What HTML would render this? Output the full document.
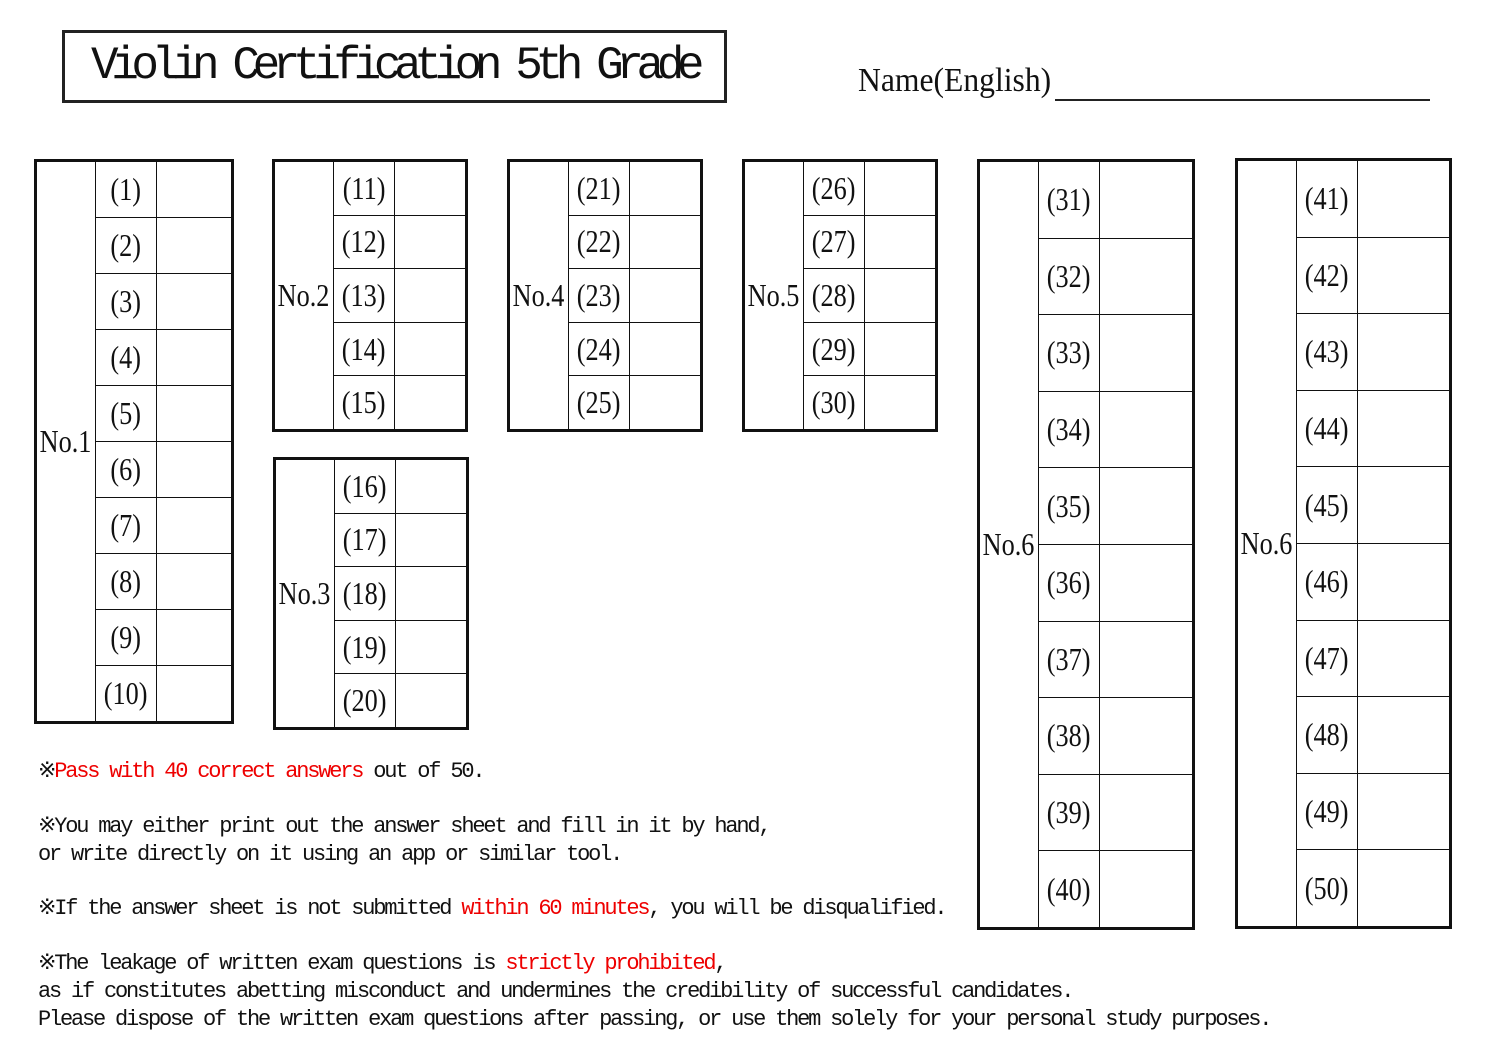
<!DOCTYPE html>
<html><head><meta charset="utf-8"><style>
html,body{margin:0;padding:0;background:#fff;}
body{width:1485px;height:1050px;position:relative;overflow:hidden;font-family:"Liberation Serif","Noto Serif CJK SC",serif;color:#111;}
.title{position:absolute;left:62px;top:30px;width:665px;height:73px;box-sizing:border-box;border:3px solid #222;font-family:"Liberation Mono",monospace;font-size:46px;letter-spacing:-7.4px;line-height:67px;padding-left:26px;white-space:nowrap;}
.name{position:absolute;left:858px;top:62px;font-size:34px;white-space:nowrap;transform:scaleX(0.93);transform-origin:left top;}
.line{position:absolute;left:1055px;top:99px;width:375px;height:2px;background:#222;}
.blk{position:absolute;box-sizing:border-box;border:3px solid #111;background:#111;display:grid;gap:1px;grid-template-columns:58px 60px 1fr;}
.blk div{background:#fff;display:flex;align-items:center;justify-content:center;font-size:32px;overflow:hidden;}
.blk div span{display:inline-block;transform:scaleX(0.82);white-space:nowrap;}
.lab{grid-row:1/-1;}
.txt{position:absolute;left:38px;font-family:"Liberation Mono",monospace;font-size:22px;letter-spacing:-2.2px;white-space:nowrap;line-height:28px;}
.r{color:#e00;}
</style></head><body>
<div class="title">Violin Certification 5th Grade</div>
<div class="name">Name(English)</div>
<div class="line"></div>

<div class="blk" style="left:34px;top:159px;width:200px;height:565px;grid-template-rows:repeat(10,1fr)">
<div class="lab"><span>No.1</span></div>
<div><span>(1)</span></div><div></div>
<div><span>(2)</span></div><div></div>
<div><span>(3)</span></div><div></div>
<div><span>(4)</span></div><div></div>
<div><span>(5)</span></div><div></div>
<div><span>(6)</span></div><div></div>
<div><span>(7)</span></div><div></div>
<div><span>(8)</span></div><div></div>
<div><span>(9)</span></div><div></div>
<div><span>(10)</span></div><div></div>
</div>

<div class="blk" style="left:272px;top:159px;width:196px;height:273px;grid-template-rows:repeat(5,1fr)">
<div class="lab"><span>No.2</span></div>
<div><span>(11)</span></div><div></div>
<div><span>(12)</span></div><div></div>
<div><span>(13)</span></div><div></div>
<div><span>(14)</span></div><div></div>
<div><span>(15)</span></div><div></div>
</div>

<div class="blk" style="left:273px;top:457px;width:196px;height:273px;grid-template-rows:repeat(5,1fr)">
<div class="lab"><span>No.3</span></div>
<div><span>(16)</span></div><div></div>
<div><span>(17)</span></div><div></div>
<div><span>(18)</span></div><div></div>
<div><span>(19)</span></div><div></div>
<div><span>(20)</span></div><div></div>
</div>

<div class="blk" style="left:507px;top:159px;width:196px;height:273px;grid-template-rows:repeat(5,1fr)">
<div class="lab"><span>No.4</span></div>
<div><span>(21)</span></div><div></div>
<div><span>(22)</span></div><div></div>
<div><span>(23)</span></div><div></div>
<div><span>(24)</span></div><div></div>
<div><span>(25)</span></div><div></div>
</div>

<div class="blk" style="left:742px;top:159px;width:196px;height:273px;grid-template-rows:repeat(5,1fr)">
<div class="lab"><span>No.5</span></div>
<div><span>(26)</span></div><div></div>
<div><span>(27)</span></div><div></div>
<div><span>(28)</span></div><div></div>
<div><span>(29)</span></div><div></div>
<div><span>(30)</span></div><div></div>
</div>

<div class="blk" style="left:977px;top:159px;width:218px;height:771px;grid-template-rows:repeat(10,1fr)">
<div class="lab"><span>No.6</span></div>
<div><span>(31)</span></div><div></div>
<div><span>(32)</span></div><div></div>
<div><span>(33)</span></div><div></div>
<div><span>(34)</span></div><div></div>
<div><span>(35)</span></div><div></div>
<div><span>(36)</span></div><div></div>
<div><span>(37)</span></div><div></div>
<div><span>(38)</span></div><div></div>
<div><span>(39)</span></div><div></div>
<div><span>(40)</span></div><div></div>
</div>

<div class="blk" style="left:1235px;top:158px;width:217px;height:771px;grid-template-rows:repeat(10,1fr)">
<div class="lab"><span>No.6</span></div>
<div><span>(41)</span></div><div></div>
<div><span>(42)</span></div><div></div>
<div><span>(43)</span></div><div></div>
<div><span>(44)</span></div><div></div>
<div><span>(45)</span></div><div></div>
<div><span>(46)</span></div><div></div>
<div><span>(47)</span></div><div></div>
<div><span>(48)</span></div><div></div>
<div><span>(49)</span></div><div></div>
<div><span>(50)</span></div><div></div>
</div>

<div class="txt" style="top:758px">※<span class="r">Pass with 40 correct answers</span> out of 50.</div>
<div class="txt" style="top:813px">※You may either print out the answer sheet and fill in it by hand,<br>or write directly on it using an app or similar tool.</div>
<div class="txt" style="top:895px">※If the answer sheet is not submitted <span class="r">within 60 minutes</span>, you will be disqualified.</div>
<div class="txt" style="top:950px">※The leakage of written exam questions is <span class="r">strictly prohibited</span>,<br>as if constitutes abetting misconduct and undermines the credibility of successful candidates.<br>Please dispose of the written exam questions after passing, or use them solely for your personal study purposes.</div>
</body></html>
